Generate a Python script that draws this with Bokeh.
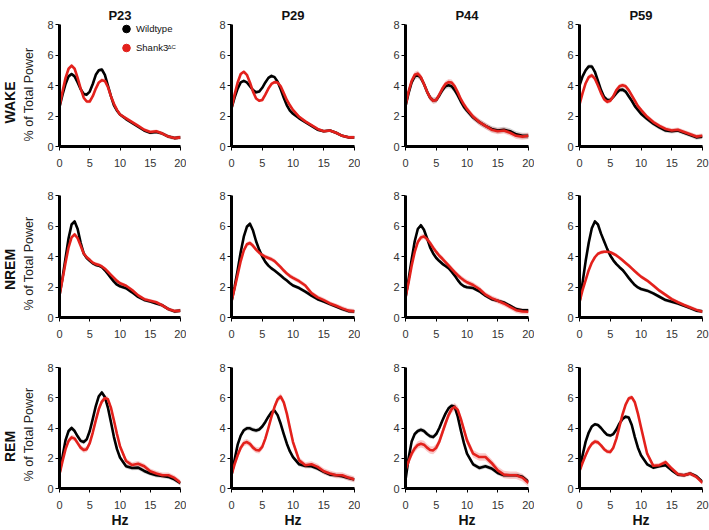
from bokeh.plotting import figure
from bokeh.models import Range1d, FixedTicker, Title, Legend, LegendItem, Label, ColumnDataSource
from bokeh.layouts import column, row
from bokeh.embed import file_html
from bokeh.resources import INLINE

# ---------------- data ----------------
freq = [0, 0.5, 1, 1.5, 2, 2.5, 3, 3.5, 4, 4.5, 5, 5.5, 6, 6.5, 7, 7.5, 8, 8.5, 9, 9.5, 10,
        11, 12, 13, 14, 15, 16, 17, 18, 19, 20]
ages = ["P23", "P29", "P44", "P59"]
states = ["WAKE", "NREM", "REM"]
x_ticks = [0, 5, 10, 15, 20]
y_ticks = [0, 2, 4, 6, 8]

# WAKE
wt_wake_p23 = [2.6, 3.4, 4.1, 4.6, 4.75, 4.6, 4.2, 3.75, 3.45, 3.4, 3.6, 4.1, 4.7, 5.0, 5.05, 4.7, 4.0, 3.3, 2.7, 2.35, 2.1,
               1.8, 1.55, 1.3, 1.05, 0.9, 0.95, 0.85, 0.65, 0.55, 0.6]
mu_wake_p23 = [2.6, 3.6, 4.5, 5.1, 5.3, 5.1, 4.5, 3.8, 3.2, 2.95, 2.95, 3.3, 3.8, 4.2, 4.35, 4.3, 3.9, 3.3, 2.8, 2.4, 2.1,
               1.85, 1.6, 1.35, 1.1, 0.95, 1.0, 0.85, 0.65, 0.55, 0.6]
wt_wake_p29 = [2.5, 3.2, 3.8, 4.2, 4.3, 4.2, 3.95, 3.7, 3.55, 3.6, 3.85, 4.2, 4.5, 4.63, 4.55, 4.25, 3.75, 3.2, 2.7, 2.35, 2.15,
               1.85, 1.6, 1.35, 1.1, 1.0, 1.05, 0.9, 0.7, 0.6, 0.6]
mu_wake_p29 = [2.5, 3.4, 4.2, 4.75, 4.9, 4.7, 4.2, 3.6, 3.15, 3.0, 3.05, 3.4, 3.8, 4.1, 4.22, 4.2, 3.95, 3.5, 3.05, 2.7, 2.4,
               1.95, 1.65, 1.4, 1.15, 1.0, 1.05, 0.9, 0.7, 0.6, 0.6]
wt_wake_p44 = [2.65, 3.5, 4.2, 4.6, 4.68, 4.5, 4.1, 3.6, 3.2, 3.02, 3.05, 3.35, 3.7, 3.95, 4.02, 3.95, 3.7, 3.35, 2.95, 2.6, 2.35,
               1.9, 1.6, 1.35, 1.15, 1.05, 1.1, 1.0, 0.8, 0.7, 0.7]
mu_wake_p44 = [2.65, 3.6, 4.3, 4.7, 4.78, 4.55, 4.1, 3.6, 3.2, 3.0, 3.05, 3.4, 3.8, 4.1, 4.22, 4.2, 3.95, 3.55, 3.1, 2.75, 2.45,
               1.95, 1.6, 1.35, 1.1, 1.0, 1.05, 0.9, 0.7, 0.65, 0.7]
wt_wake_p59 = [4.0, 4.6, 5.0, 5.25, 5.25, 4.9, 4.3, 3.7, 3.25, 3.05, 3.05, 3.25, 3.5, 3.7, 3.73, 3.6, 3.3, 3.0, 2.65, 2.4, 2.15,
               1.8, 1.5, 1.25, 1.05, 1.0, 1.05, 0.9, 0.75, 0.6, 0.65]
mu_wake_p59 = [2.75, 3.5, 4.15, 4.55, 4.67, 4.45, 4.0, 3.5, 3.1, 2.93, 3.0, 3.3, 3.7, 3.95, 4.02, 3.95, 3.7, 3.35, 3.0, 2.65, 2.4,
               1.95, 1.6, 1.35, 1.15, 1.05, 1.1, 0.95, 0.8, 0.65, 0.7]

# NREM
wt_nrem_p23 = [1.45, 2.6, 3.9, 5.2, 6.1, 6.3, 5.8, 4.9, 4.2, 3.9, 3.72, 3.55, 3.45, 3.4, 3.3, 3.1, 2.85, 2.6, 2.35, 2.15, 2.05,
               1.92, 1.65, 1.35, 1.15, 1.05, 0.92, 0.8, 0.55, 0.4, 0.45]
mu_nrem_p23 = [1.45, 2.5, 3.6, 4.6, 5.25, 5.45, 5.2, 4.7, 4.2, 3.95, 3.78, 3.6, 3.5, 3.45, 3.35, 3.2, 3.0, 2.8, 2.6, 2.4, 2.25,
               2.08, 1.8, 1.45, 1.2, 1.1, 1.0, 0.8, 0.55, 0.42, 0.45]
wt_nrem_p29 = [1.05, 2.0, 3.1, 4.3, 5.3, 5.95, 6.15, 5.7, 5.0, 4.45, 4.0, 3.65, 3.4, 3.22, 3.08, 2.92, 2.75, 2.58, 2.42, 2.25, 2.1,
               1.93, 1.7, 1.43, 1.2, 1.05, 0.88, 0.72, 0.55, 0.42, 0.4]
mu_nrem_p29 = [1.05, 1.9, 2.8, 3.7, 4.4, 4.8, 4.88, 4.7, 4.45, 4.25, 4.1, 3.98, 3.9, 3.82, 3.7, 3.5, 3.3, 3.08, 2.88, 2.72, 2.6,
               2.38, 2.1, 1.6, 1.32, 1.14, 0.92, 0.77, 0.6, 0.45, 0.4]
wt_nrem_p44 = [1.3, 2.5, 3.8, 5.0, 5.8, 6.05, 5.75, 5.2, 4.6, 4.2, 3.9, 3.7, 3.52, 3.38, 3.23, 3.0, 2.75, 2.45, 2.2, 2.05, 1.98,
               1.93, 1.72, 1.43, 1.2, 1.1, 0.99, 0.77, 0.55, 0.48, 0.48]
mu_nrem_p44 = [1.3, 2.3, 3.4, 4.3, 4.95, 5.25, 5.32, 5.15, 4.88, 4.58, 4.3, 4.05, 3.85, 3.63, 3.41, 3.19, 2.97, 2.77, 2.59, 2.44, 2.31,
               2.13, 1.87, 1.5, 1.27, 1.1, 0.92, 0.7, 0.48, 0.4, 0.38]
wt_nrem_p59 = [1.0, 2.3, 3.7, 4.9, 5.85, 6.3, 6.1, 5.5, 5.0, 4.5, 4.07, 3.75, 3.5, 3.3, 3.12, 2.87, 2.6, 2.35, 2.13, 1.97, 1.87,
               1.76, 1.58, 1.36, 1.14, 1.03, 0.92, 0.77, 0.62, 0.45, 0.4]
mu_nrem_p59 = [1.0, 1.8, 2.45, 3.1, 3.6, 3.95, 4.18, 4.27, 4.31, 4.31, 4.28, 4.18, 4.07, 3.92, 3.75, 3.58, 3.41, 3.22, 3.03, 2.85, 2.68,
               2.42, 2.1, 1.76, 1.48, 1.21, 1.0, 0.82, 0.66, 0.5, 0.38]

# REM
wt_rem_p23 = [1.0, 2.1, 3.2, 3.8, 4.0, 3.8, 3.45, 3.15, 3.07, 3.25, 3.8, 4.6, 5.45, 6.1, 6.35, 6.05, 5.35, 4.4, 3.4, 2.6, 2.05,
              1.47, 1.36, 1.38, 1.16, 0.99, 0.88, 0.83, 0.77, 0.6, 0.35]
mu_rem_p23 = [0.95, 1.8, 2.6, 3.15, 3.38, 3.3, 3.0, 2.7, 2.55, 2.6, 3.0, 3.7, 4.5, 5.25, 5.75, 5.98, 5.9, 5.35, 4.5, 3.6, 2.8,
              1.82, 1.55, 1.64, 1.47, 1.14, 0.99, 0.88, 0.88, 0.7, 0.38]
wt_rem_p29 = [0.9, 1.9, 2.9, 3.5, 3.85, 3.98, 3.98, 3.88, 3.84, 3.9, 4.1, 4.4, 4.75, 5.05, 5.15, 4.85, 4.28, 3.6, 2.96, 2.45, 2.08,
              1.6, 1.49, 1.47, 1.32, 1.1, 0.92, 0.88, 0.81, 0.7, 0.6]
mu_rem_p29 = [0.9, 1.6, 2.2, 2.7, 3.0, 3.07, 2.95, 2.7, 2.55, 2.52, 2.75, 3.3, 4.0, 4.75, 5.4, 5.9, 6.08, 5.7, 4.95, 4.0, 3.07,
              1.86, 1.54, 1.6, 1.43, 1.14, 0.99, 0.88, 0.88, 0.72, 0.6]
wt_rem_p44 = [0.55, 2.0, 3.1, 3.6, 3.8, 3.88, 3.8, 3.6, 3.45, 3.4, 3.6, 4.0, 4.5, 4.95, 5.3, 5.47, 5.4, 4.75, 3.84, 3.0, 2.3,
              1.6, 1.36, 1.47, 1.32, 1.03, 0.88, 0.88, 0.88, 0.77, 0.44]
mu_rem_p44 = [1.2, 1.8, 2.3, 2.65, 2.88, 2.96, 2.9, 2.7, 2.55, 2.52, 2.7, 3.1, 3.7, 4.3, 4.85, 5.25, 5.4, 5.2, 4.6, 3.9, 3.18,
              2.3, 2.08, 2.08, 1.69, 1.2, 0.92, 0.88, 0.88, 0.72, 0.37]
wt_rem_p59 = [1.15, 2.2, 3.1, 3.7, 4.1, 4.25, 4.2, 4.0, 3.75, 3.55, 3.5, 3.6, 3.9, 4.3, 4.6, 4.75, 4.7, 4.2, 3.4, 2.7, 2.2,
              1.6, 1.38, 1.47, 1.54, 1.2, 0.92, 0.88, 0.99, 0.81, 0.44]
mu_rem_p59 = [1.15, 1.7, 2.2, 2.65, 2.95, 3.1, 3.05, 2.85, 2.6, 2.45, 2.42, 2.7, 3.3, 4.1, 4.9, 5.55, 5.95, 6.03, 5.7, 4.95, 4.05,
              2.3, 1.5, 1.54, 1.75, 1.32, 0.94, 0.88, 0.99, 0.77, 0.37]

# standard error (band half-width) per panel: [wildtype, Shank3]
sem_wake = [[0.12, 0.12], [0.1, 0.1], [0.2, 0.2], [0.15, 0.15]]
sem_nrem = [[0.12, 0.12], [0.12, 0.15], [0.12, 0.18], [0.12, 0.12]]
sem_rem = [[0.15, 0.18], [0.15, 0.2], [0.15, 0.25], [0.12, 0.15]]

wt_data = [[wt_wake_p23, wt_wake_p29, wt_wake_p44, wt_wake_p59],
           [wt_nrem_p23, wt_nrem_p29, wt_nrem_p44, wt_nrem_p59],
           [wt_rem_p23, wt_rem_p29, wt_rem_p44, wt_rem_p59]]
mu_data = [[mu_wake_p23, mu_wake_p29, mu_wake_p44, mu_wake_p59],
           [mu_nrem_p23, mu_nrem_p29, mu_nrem_p44, mu_nrem_p59],
           [mu_rem_p23, mu_rem_p29, mu_rem_p44, mu_rem_p59]]
sem_data = [sem_wake, sem_nrem, sem_rem]

# ---------------- style ----------------
FONT = "Liberation Sans"
WT_COLOR = "#000000"
MU_COLOR = "#e3211c"
WT_BAND = "#9e9e9e"
MU_BAND = "#f28a8a"
LABEL_W = 44                       # strip holding the row / y-axis labels
COL_W = [142, 174, 174, 175]
LEFT = [13, 45, 45, 45]
RIGHT = [6, 6, 6, 7]
ROW_H = [172, 171, 187]
TOP = [24, 23, 24]
BOT = [26, 26, 42]
# vertical centres (px above the plot-frame bottom) of the left-hand labels per row
YLAB_Y = [52, 54, 54]
STATE_Y = [44, 48, 42]


def make_label_strip(r):
    p = figure(width=LABEL_W, height=ROW_H[r], x_range=Range1d(0, 1), y_range=Range1d(0, 1),
               output_backend="svg", toolbar_location=None, title=None,
               x_axis_location=None, y_axis_location=None,
               min_border_left=0, min_border_right=0,
               min_border_top=TOP[r], min_border_bottom=BOT[r])
    p.grid.visible = False
    p.outline_line_color = None
    p.background_fill_color = "white"
    p.border_fill_color = "white"
    p.add_layout(Label(x=28, y=YLAB_Y[r], x_units="screen", y_units="screen",
                       text="% of Total Power", angle=90, angle_units="deg",
                       text_align="center", text_baseline="middle", text_font=FONT,
                       text_font_size="12.5px", text_color="#222222"))
    p.add_layout(Label(x=9, y=STATE_Y[r], x_units="screen", y_units="screen",
                       text=states[r], angle=90, angle_units="deg",
                       text_align="center", text_baseline="middle", text_font=FONT,
                       text_font_size="14px", text_font_style="bold",
                       text_color="#111111"))
    return p


def make_panel(r, c):
    ttl = None
    if r == 0:
        ttl = Title(text=ages[c], align="center", text_font=FONT, text_font_size="13px",
                    text_font_style="bold", standoff=3, text_color="#111111")
    p = figure(width=COL_W[c], height=ROW_H[r], x_range=Range1d(0, 20), y_range=Range1d(0, 8),
               output_backend="svg", toolbar_location=None, title=ttl,
               min_border_left=LEFT[c], min_border_right=RIGHT[c],
               min_border_top=TOP[r], min_border_bottom=BOT[r])
    p.outline_line_color = None
    p.grid.visible = False
    p.background_fill_color = "white"
    p.border_fill_color = "white"

    wt = wt_data[r][c]
    mu = mu_data[r][c]
    s_wt, s_mu = sem_data[r][c]
    src = ColumnDataSource(dict(
        x=freq, wt=wt, mu=mu,
        wt_lo=[v - s_wt for v in wt], wt_hi=[v + s_wt for v in wt],
        mu_lo=[v - s_mu for v in mu], mu_hi=[v + s_mu for v in mu]))
    p.varea(x="x", y1="wt_lo", y2="wt_hi", source=src, fill_color=WT_BAND, fill_alpha=0.45)
    p.varea(x="x", y1="mu_lo", y2="mu_hi", source=src, fill_color=MU_BAND, fill_alpha=0.45)
    p.line(x="x", y="wt", source=src, line_color=WT_COLOR, line_width=2.6, line_join="round")
    p.line(x="x", y="mu", source=src, line_color=MU_COLOR, line_width=2.6, line_join="round")

    for ax in (p.xaxis, p.yaxis):
        ax.axis_line_width = 3
        ax.axis_line_color = "black"
        ax.major_tick_out = 4
        ax.major_tick_in = 0
        ax.major_tick_line_width = 1
        ax.minor_tick_out = 0
        ax.minor_tick_in = 0
        ax.major_label_text_font = FONT
        ax.major_label_text_font_size = "11px"
        ax.major_label_text_color = "#333333"
    p.xaxis.ticker = FixedTicker(ticks=x_ticks)
    p.yaxis.ticker = FixedTicker(ticks=y_ticks)
    p.xaxis.major_label_standoff = 8
    p.yaxis.major_label_standoff = 2

    if r == 2:
        p.xaxis.axis_label = "Hz"
        p.xaxis.axis_label_text_font = FONT
        p.xaxis.axis_label_text_font_size = "14px"
        p.xaxis.axis_label_text_font_style = "bold"
        p.xaxis.axis_label_text_color = "#111111"
        p.xaxis.axis_label_standoff = 0

    if r == 0 and c == 0:
        nan = float("nan")
        s1 = p.scatter(x=[nan], y=[nan], size=8, color=WT_COLOR)
        s2 = p.scatter(x=[nan], y=[nan], size=8, color=MU_COLOR)
        leg = Legend(items=[LegendItem(label="Wildtype", renderers=[s1], index=0),
                            LegendItem(label="Shank3", renderers=[s2], index=0)],
                     location=(57, 89), orientation="vertical",
                     border_line_color=None, background_fill_alpha=0,
                     padding=0, margin=0, spacing=0,
                     glyph_width=20, glyph_height=19, label_height=19,
                     label_standoff=-4, label_text_font=FONT,
                     label_text_font_size="9.5px", label_text_color="#111111")
        p.add_layout(leg)
        p.add_layout(Label(x=108, y=100, x_units="screen", y_units="screen",
                           text="ΔC", text_font=FONT, text_font_size="6px",
                           text_color="#111111", text_baseline="alphabetic"))
    return p


rows = []
for r in range(3):
    rows.append(row(make_label_strip(r), *[make_panel(r, c) for c in range(4)]))
layout = column(*rows)

open("out.html", "w").write(file_html(layout, INLINE))
